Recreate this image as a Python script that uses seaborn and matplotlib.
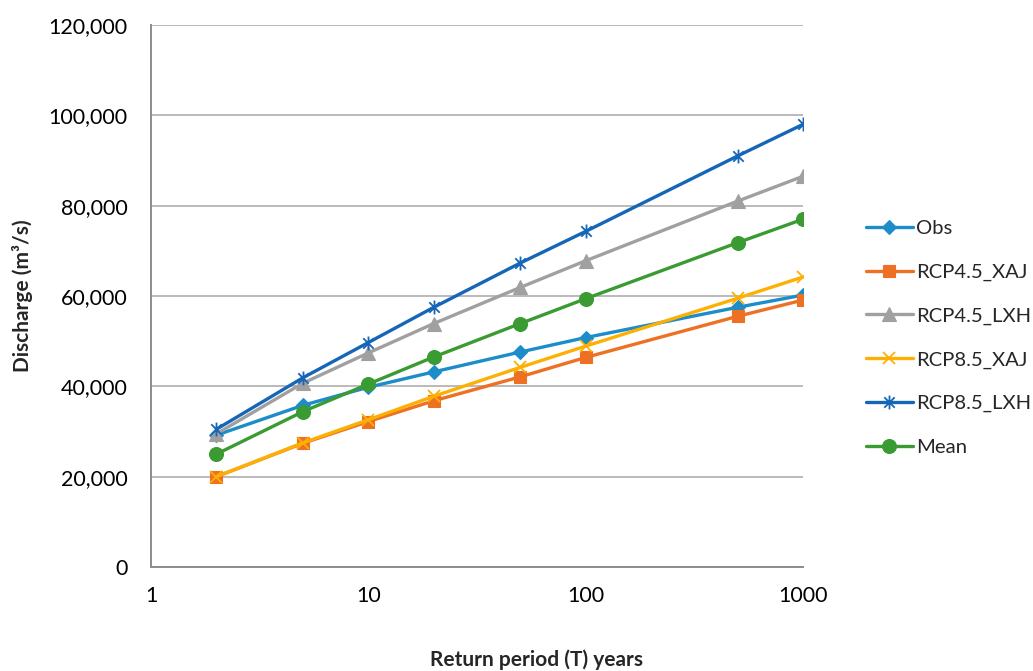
import numpy as np
import pandas as pd
import matplotlib
matplotlib.use("Agg")
import matplotlib.pyplot as plt
from matplotlib.path import Path
from matplotlib.ticker import FuncFormatter, FixedLocator
import seaborn as sns

# Return periods (years) and flood discharge estimates (m³/s)
return_period = [2, 5, 10, 20, 50, 100, 500, 1000]
obs = [29200, 35800, 39800, 43200, 47600, 50800, 57500, 60200]
rcp45_xaj = [20000, 27400, 32200, 36800, 42100, 46400, 55500, 59100]
rcp45_lxh = [29500, 40700, 47400, 53900, 61900, 67800, 81000, 86500]
rcp85_xaj = [20000, 27500, 32600, 37800, 44200, 48900, 59500, 64200]
rcp85_lxh = [30500, 41900, 49700, 57500, 67300, 74300, 91000, 98000]
mean = [25000, 34400, 40500, 46500, 53900, 59400, 71800, 77000]

series_names = ["Obs", "RCP4.5_XAJ", "RCP4.5_LXH", "RCP8.5_XAJ", "RCP8.5_LXH", "Mean"]
series_values = [obs, rcp45_xaj, rcp45_lxh, rcp85_xaj, rcp85_lxh, mean]
x_ticks = [1, 10, 100, 1000]
y_ticks = [0, 20000, 40000, 60000, 80000, 100000, 120000]

# Excel-style star marker: an "x" with a vertical bar through it
star = Path(
    [(0, -1), (0, 1), (-0.75, -0.75), (0.75, 0.75), (-0.75, 0.75), (0.75, -0.75)],
    [Path.MOVETO, Path.LINETO, Path.MOVETO, Path.LINETO, Path.MOVETO, Path.LINETO],
)

styles = {
    "Obs": dict(color="#1c8dc9", marker="D", ms=7.5),
    "RCP4.5_XAJ": dict(color="#ee7023", marker="s", ms=8.5),
    "RCP4.5_LXH": dict(color="#a0a0a0", marker="^", ms=9.5),
    "RCP8.5_XAJ": dict(color="#fdb004", marker="x", ms=9),
    "RCP8.5_LXH": dict(color="#1666b8", marker=star, ms=10),
    "Mean": dict(color="#3a9b32", marker="o", ms=10),
}

frames = []
for name, vals in zip(series_names, series_values):
    frames.append(pd.DataFrame({"T": return_period, "Q": vals, "series": name}))
df = pd.concat(frames, ignore_index=True)

sns.set_theme(style="white")
plt.rcParams["font.family"] = ["Lato", "DejaVu Sans"]

fig = plt.figure(figsize=(10.33, 6.71), dpi=100)
ax = fig.add_axes([0.1462, 0.155, 0.6311, 0.8077])

for name in series_names:
    st = styles[name]
    sub = df[df["series"] == name]
    is_line_marker = name in ("RCP8.5_XAJ", "RCP8.5_LXH")
    sns.lineplot(
        data=sub, x="T", y="Q", ax=ax, label=name,
        color=st["color"], linewidth=2.4,
        marker=st["marker"], markersize=st["ms"],
        markeredgewidth=1.3 if is_line_marker else 0.8,
        markeredgecolor=st["color"],
        markerfacecolor=st["color"],
        estimator=None, sort=False,
    )

ax.set_xscale("log")
ax.set_xlim(1, 1000)
ax.set_ylim(0, 120000)
ax.xaxis.set_major_locator(FixedLocator(x_ticks))
ax.xaxis.set_minor_locator(FixedLocator([]))
ax.xaxis.set_major_formatter(FuncFormatter(lambda v, p: f"{int(round(v))}"))
ax.set_yticks(y_ticks)
ax.yaxis.set_major_formatter(FuncFormatter(lambda v, p: f"{int(v):,}"))

ax.grid(axis="y", color="#b4b4b4", linewidth=1.3)
ax.grid(axis="x", visible=False)
ax.set_axisbelow(True)
for side in ("top", "right"):
    ax.spines[side].set_visible(False)
for side in ("left", "bottom"):
    ax.spines[side].set_color("#8c8c8c")
    ax.spines[side].set_linewidth(1.4)

ax.tick_params(axis="both", length=0, labelsize=15.5, colors="#000000")
ax.tick_params(axis="y", pad=17)
ax.tick_params(axis="x", pad=14)

ax.set_xlabel("")
ax.set_ylabel("Discharge (m³/s)", fontsize=15, fontweight="bold", labelpad=11)
fig.text(537 / 1033, 1 - 660 / 671, "Return period (T) years",
         ha="center", va="center", fontsize=15, fontweight="bold")

handles, labels = ax.get_legend_handles_labels()
if ax.legend_:
    ax.legend_.remove()
fig.legend(handles, labels, loc="center left",
           bbox_to_anchor=(858 / 1033, 1 - 338 / 671),
           frameon=False, fontsize=14.6, handlelength=2.3,
           handletextpad=0.15, labelspacing=1.3, borderaxespad=0)

fig.savefig("out.png", dpi=100)
